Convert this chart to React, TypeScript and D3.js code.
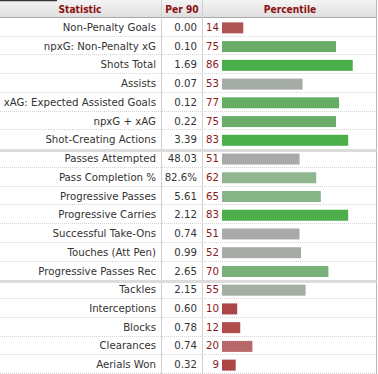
import React from "react";
import * as d3 from "d3";

const statNames = [
  "Non-Penalty Goals",
  "npxG: Non-Penalty xG",
  "Shots Total",
  "Assists",
  "xAG: Expected Assisted Goals",
  "npxG + xAG",
  "Shot-Creating Actions",
  "Passes Attempted",
  "Pass Completion %",
  "Progressive Passes",
  "Progressive Carries",
  "Successful Take-Ons",
  "Touches (Att Pen)",
  "Progressive Passes Rec",
  "Tackles",
  "Interceptions",
  "Blocks",
  "Clearances",
  "Aerials Won",
];
const per90 = [
  "0.00", "0.10", "1.69", "0.07", "0.12", "0.22", "3.39",
  "48.03", "82.6%", "5.61", "2.12", "0.74", "0.99", "2.65",
  "2.15", "0.60", "0.78", "0.74", "0.32",
];
const percentiles = [14, 75, 86, 53, 77, 75, 83, 51, 62, 65, 83, 51, 52, 70, 55, 10, 12, 20, 9];
// rows where a new group starts (thick separator on top)
const groupStarts = [7, 14];
const headers = ["Statistic", "Per 90", "Percentile"];

export default function App() {
  const width = 378;
  const height = 374;
  const headerH = 18;
  const col1 = 161.5;
  const col2 = 202.5;
  const right = 376.5;
  const font = "'DejaVu Sans', Verdana, sans-serif";

  const y = d3
    .scaleBand<number>()
    .domain(d3.range(statNames.length))
    .range([headerH, height]);

  const x = d3.scaleLinear().domain([0, 100]).range([222, 374]);

  const color = d3
    .scaleLinear<string>()
    .domain([0, 10, 20, 50, 55, 62, 75, 83, 100])
    .range(["#a83c3c", "#ad4646", "#b8686a", "#a9a9a9", "#a2aea2", "#8fb68f", "#6aad6a", "#4caf4c", "#3aa83a"])
    .clamp(true);

  const barH = 11;

  return (
    <svg width={width} height={height} style={{ position: "absolute", left: 0, top: 0 }}>
      <defs>
        <linearGradient id="hdr" x1="0" y1="0" x2="0" y2="1">
          <stop offset="0%" stopColor="#f4f4f4" />
          <stop offset="100%" stopColor="#dedede" />
        </linearGradient>
      </defs>
      <rect x={0} y={0} width={width} height={height} fill="#fff" />
      {/* header */}
      <rect x={0} y={0} width={right} height={headerH} fill="url(#hdr)" />
      <line x1={0} x2={57} y1={0.5} y2={0.5} stroke="#2f3b2f" strokeWidth={1.5} />
      <line x1={0} x2={right} y1={headerH - 0.5} y2={headerH - 0.5} stroke="#a8a8a8" />
      {headers.map((h, i) => (
        <text
          key={h}
          x={[80, 182, 290][i]}
          y={13}
          textAnchor="middle"
          fontFamily={"'DejaVu Sans Condensed', " + font}
          fontWeight="bold"
          fontSize={10.2}
          fill="#8b1010"
        >
          {h}
        </text>
      ))}

      {/* rows */}
      {statNames.map((name, i) => {
        const top = y(i) as number;
        const mid = top + y.bandwidth() / 2;
        const p = percentiles[i];
        return (
          <g key={name}>
            {groupStarts.includes(i + 1) ? null : (
              <line
                x1={0}
                x2={right}
                y1={Math.round(top + y.bandwidth()) - 0.5}
                y2={Math.round(top + y.bandwidth()) - 0.5}
                stroke="#d4d4d4"
                strokeDasharray="1,1"
              />
            )}
            <text x={156} y={mid + 3.6} textAnchor="end" fontFamily={font} fontSize={10.2} fill="#333">
              {name}
            </text>
            <text x={197} y={mid + 3.6} textAnchor="end" fontFamily={font} fontSize={10.2} fill="#333">
              {per90[i]}
            </text>
            <text x={219} y={mid + 3.6} textAnchor="end" fontFamily={font} fontSize={10.2} fill="#8b1a1a">
              {p}
            </text>
            <rect x={x(0)} y={mid - barH / 2 + 0.5} width={x(p) - x(0)} height={barH} fill={color(p)} />
          </g>
        );
      })}

      {/* column borders */}
      <line x1={col1} x2={col1} y1={0} y2={height} stroke="#cfcfcf" />
      <line x1={col2} x2={col2} y1={0} y2={height} stroke="#cfcfcf" />
      <line x1={right} x2={right} y1={0} y2={height} stroke="#b8b8b8" />

      {/* group separators */}
      {groupStarts.map((g) => (
        <rect key={g} x={0} y={Math.round(y(g) as number)} width={right} height={3} fill="#dcdcdc" />
      ))}
    </svg>
  );
}
